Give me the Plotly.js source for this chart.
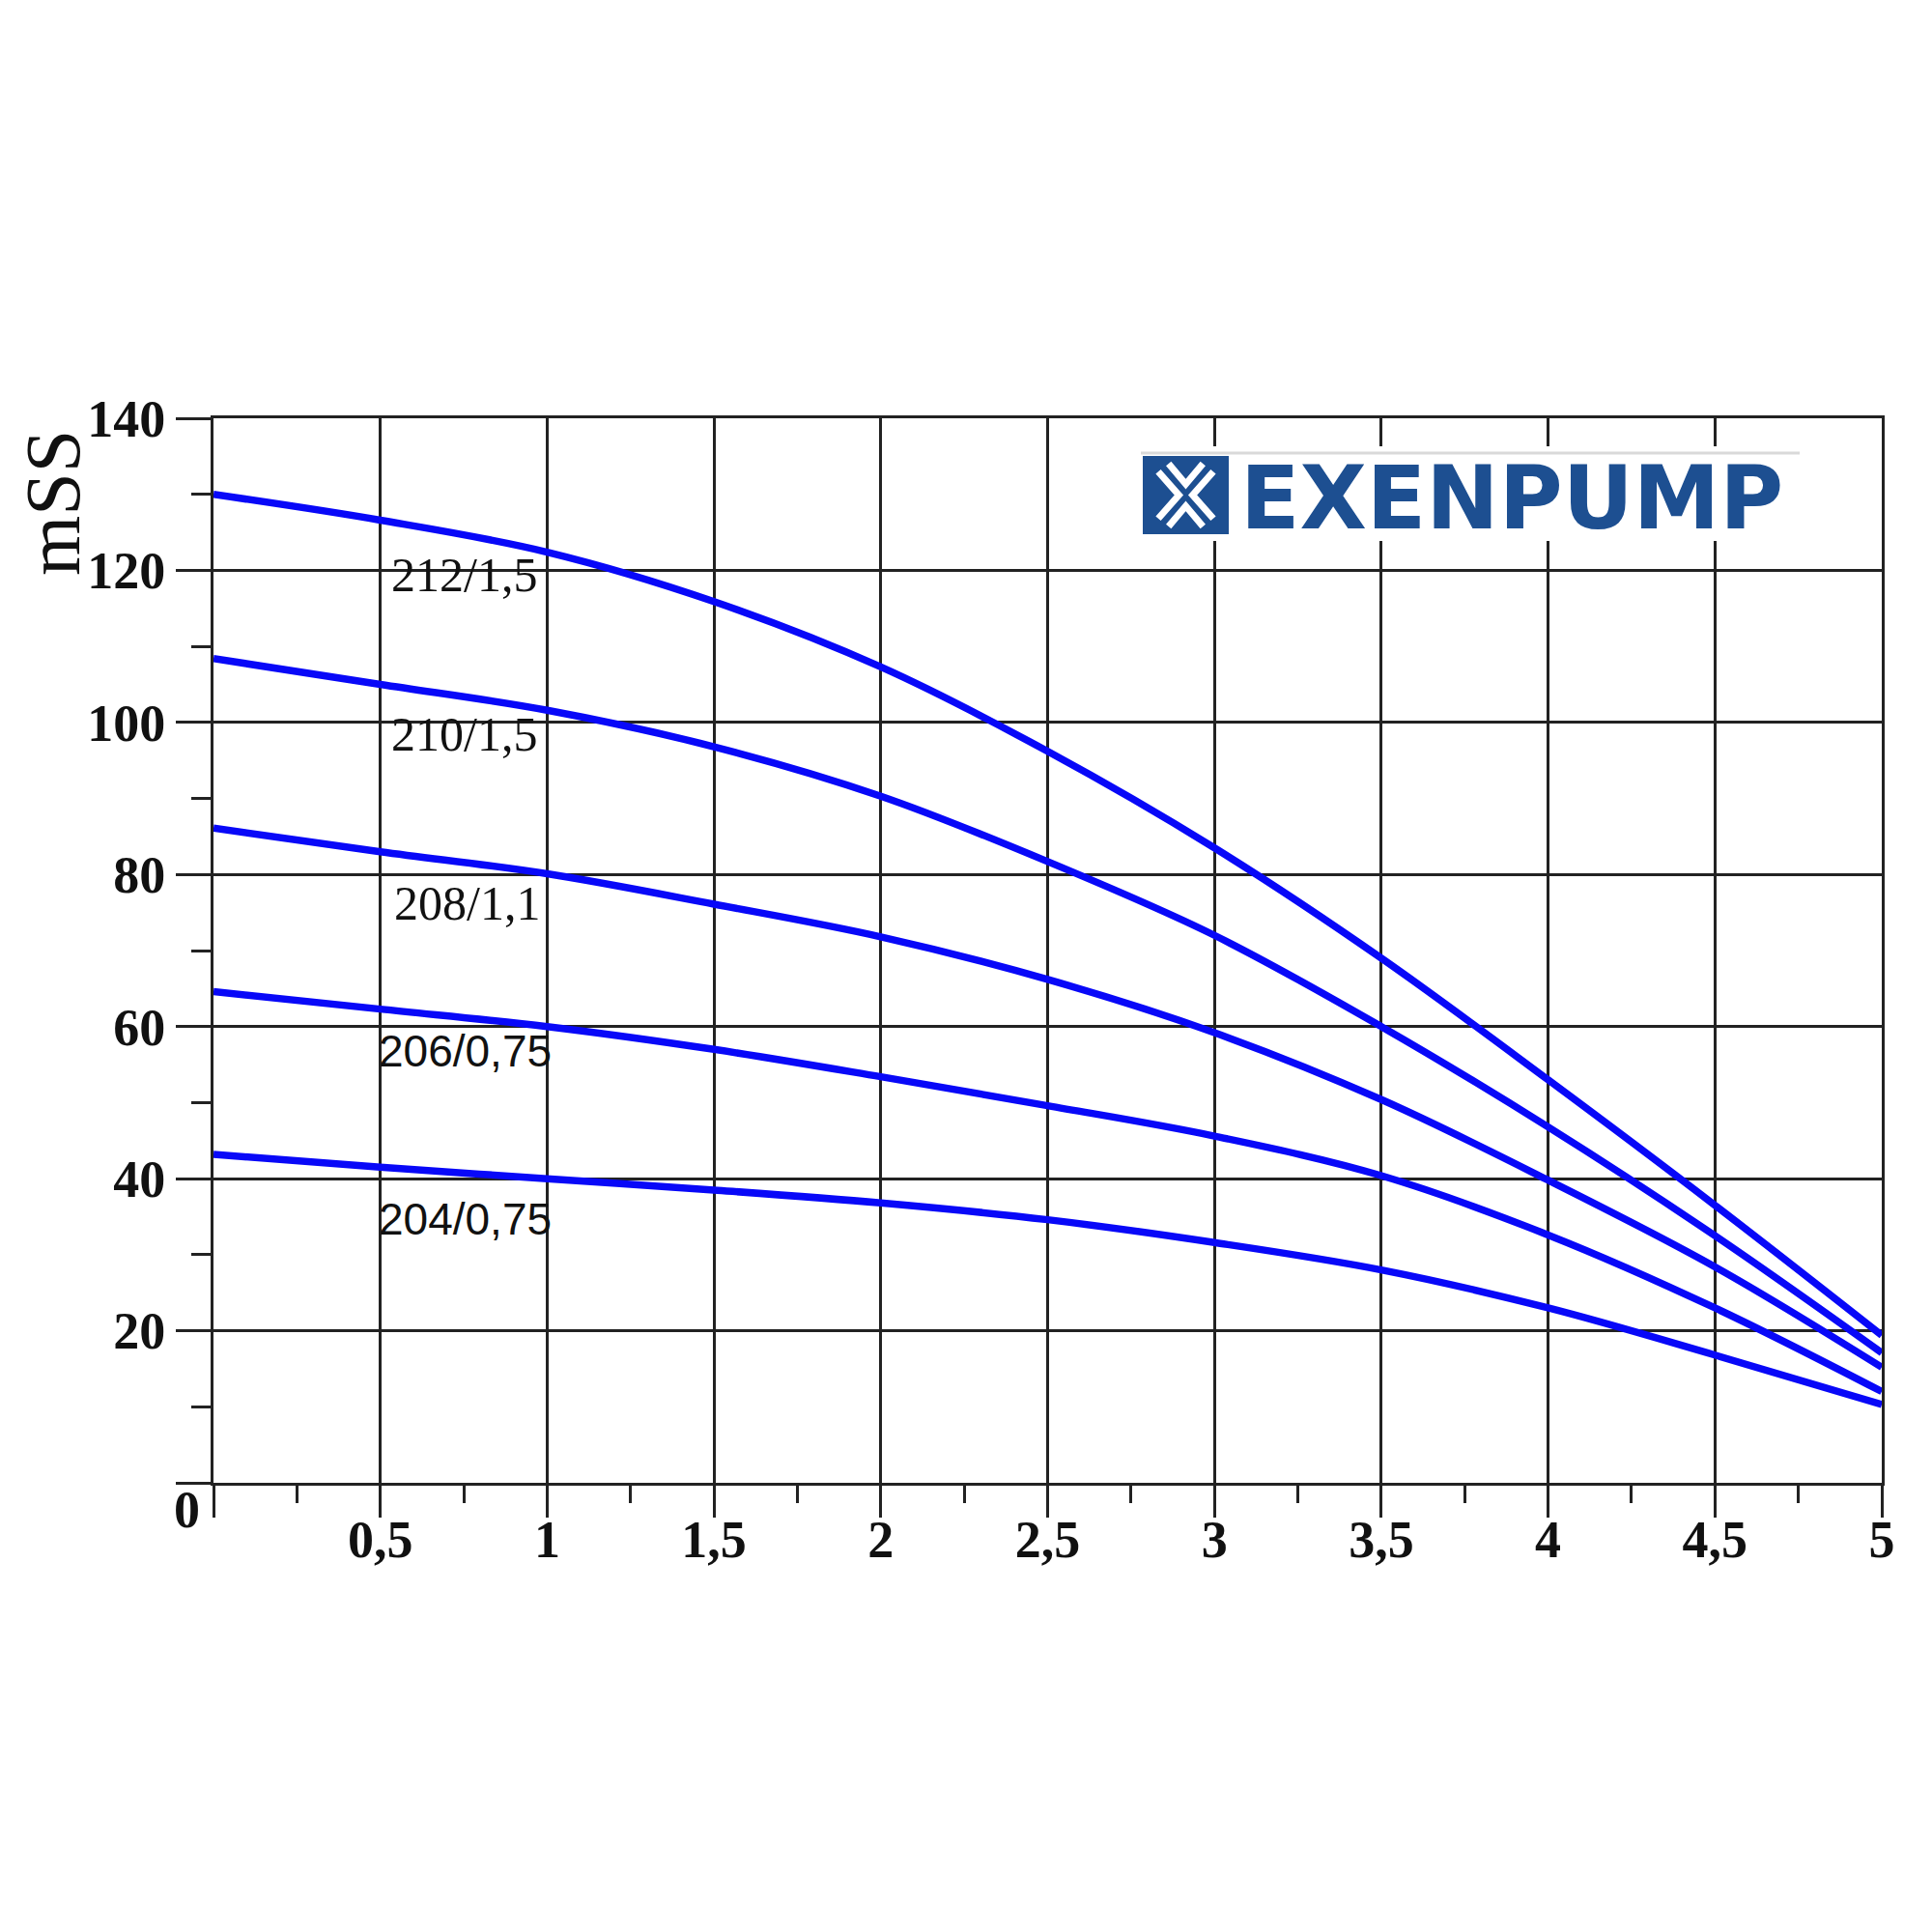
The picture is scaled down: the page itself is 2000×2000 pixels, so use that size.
<!DOCTYPE html>
<html>
<head>
<meta charset="utf-8">
<script src="https://cdn.plot.ly/plotly-3.0.1.min.js"></script>
<style>html,body{margin:0;padding:0;background:#fff}#chart{width:2000px;height:2000px}</style>
</head>
<body>
<div id="chart"></div>
<script>
// ---- data ----
const flow = [0, 0.5, 1, 1.5, 2, 2.5, 3, 3.5, 4, 4.5, 5];
const head212 = [130, 126.6, 122.4, 115.9, 107.3, 96.2, 83.5, 69.0, 53.0, 36.5, 19.4];
const head210 = [108.4, 105, 101.6, 96.8, 90.3, 81.7, 72, 60, 46.8, 32.5, 17.1];
const head208 = [86.1, 83, 80.1, 76.1, 71.8, 66.2, 59.2, 50.4, 39.8, 28.4, 15.2];
const head206 = [64.6, 62.3, 60, 57, 53.4, 49.6, 45.6, 40.4, 32.6, 23.0, 12.0];
const head204 = [43.2, 41.5, 40, 38.5, 36.8, 34.6, 31.6, 28, 23, 16.8, 10.3];
const seriesNames = ['212/1,5', '210/1,5', '208/1,1', '206/0,75', '204/0,75'];
const xTickVals = [0, 0.5, 1, 1.5, 2, 2.5, 3, 3.5, 4, 4.5, 5];
const xTickText = ['', '0,5', '1', '1,5', '2', '2,5', '3', '3,5', '4', '4,5', '5'];
const yTickVals = [0, 20, 40, 60, 80, 100, 120, 140];
const yTickText = ['', '20', '40', '60', '80', '100', '120', '140'];
const yTitle = 'mSS';
const brand = 'EXENPUMP';

// ---- layout helpers (pixel -> paper) ----
const L = 221, R = 1948, T = 433, B = 1535;
const px = v => (v - L) / (R - L);
const py = v => (B - v) / (B - T);

const seriesY = [head212, head210, head208, head206, head204];
const traces = seriesY.map((ys, i) => ({
  x: flow, y: ys, type: 'scatter', mode: 'lines', name: seriesNames[i],
  line: {color: '#0808f8', width: 7.5, shape: 'spline', smoothing: 1},
  hoverinfo: 'skip'
}));

const gridCol = '#222222';
const serifBold = {family: 'Liberation Serif, Times New Roman, serif', size: 54, color: '#111', weight: 'bold'};

// label positions (data coords)
const labelPos = [[0.528, 119.4], [0.528, 98.5], [0.535, 76.2], [0.49, 56.8], [0.49, 34.7]];
const labelFonts = [
  {family: 'Liberation Serif, serif', size: 50, color: '#111'},
  {family: 'Liberation Serif, serif', size: 50, color: '#111'},
  {family: 'Liberation Serif, serif', size: 50, color: '#111'},
  {family: 'Liberation Sans, Arial, sans-serif', size: 46, color: '#111'},
  {family: 'Liberation Sans, Arial, sans-serif', size: 46, color: '#111'}
];
const annotations = seriesNames.map((n, i) => ({
  x: labelPos[i][0], y: labelPos[i][1], xref: 'x', yref: 'y', text: n,
  showarrow: false, xanchor: 'left', yanchor: 'middle', font: labelFonts[i]
}));
annotations.push({
  x: px(55), y: py(521), xref: 'paper', yref: 'paper', text: yTitle, textangle: -90,
  showarrow: false, xanchor: 'center', yanchor: 'middle',
  font: {family: 'Liberation Serif, Times New Roman, serif', size: 80, color: '#111'}
});
annotations.push({
  x: px(193), y: py(1563), xref: 'paper', yref: 'paper', text: '0',
  showarrow: false, xanchor: 'center', yanchor: 'middle', font: serifBold
});
annotations.push({
  x: px(1282), y: py(515), xref: 'paper', yref: 'paper', text: brand,
  showarrow: false, xanchor: 'left', yanchor: 'middle',
  font: {family: 'DejaVu Sans, sans-serif', size: 90, color: '#1d4f91', weight: 'bold'}
});

// logo shapes
const ix0 = 1183, ix1 = 1272, iy0 = 472, iy1 = 553;
const ix = f => px(ix0 + f * (ix1 - ix0));
const iy = f => py(iy0 + f * (iy1 - iy0));
const poly = pts => 'M ' + pts.map(p => ix(p[0]) + ',' + iy(p[1])).join(' L ');
const whiteStroke = {color: '#ffffff', width: 7};
const shapes = [
  {type: 'rect', xref: 'paper', yref: 'paper', x0: px(1172), x1: px(1872), y0: py(462), y1: py(560),
   fillcolor: '#ffffff', line: {width: 0}, layer: 'above'},
  {type: 'line', xref: 'paper', yref: 'paper', x0: px(1181), x1: px(1863), y0: py(469), y1: py(469),
   line: {color: '#d9d9d9', width: 3}, layer: 'above'},
  {type: 'rect', xref: 'paper', yref: 'paper', x0: ix(0), x1: ix(1), y0: iy(0), y1: iy(1),
   fillcolor: '#1d4f91', line: {width: 0}, layer: 'above'},
  {type: 'path', xref: 'paper', yref: 'paper', path: poly([[0.18, 0.2], [0.42, 0.5], [0.18, 0.8]]), line: whiteStroke, layer: 'above'},
  {type: 'path', xref: 'paper', yref: 'paper', path: poly([[0.82, 0.2], [0.58, 0.5], [0.82, 0.8]]), line: whiteStroke, layer: 'above'},
  {type: 'path', xref: 'paper', yref: 'paper', path: poly([[0.3, 0.1], [0.5, 0.36], [0.7, 0.1]]), line: whiteStroke, layer: 'above'},
  {type: 'path', xref: 'paper', yref: 'paper', path: poly([[0.3, 0.9], [0.5, 0.64], [0.7, 0.9]]), line: whiteStroke, layer: 'above'}
];

const layout = {
  width: 2000, height: 2000,
  margin: {l: L, r: 2000 - R, t: T, b: 2000 - B, pad: 0},
  paper_bgcolor: '#ffffff', plot_bgcolor: '#ffffff',
  showlegend: false,
  xaxis: {
    range: [0, 5], tickvals: xTickVals, ticktext: xTickText,
    showgrid: true, gridcolor: gridCol, gridwidth: 3, zeroline: false,
    showline: true, linecolor: gridCol, linewidth: 3, mirror: true,
    ticks: 'outside', ticklen: 33, tickwidth: 3, tickcolor: gridCol,
    minor: {dtick: 0.25, tick0: 0, ticks: 'outside', ticklen: 18, tickwidth: 3, tickcolor: gridCol, showgrid: false},
    tickfont: serifBold, ticklabelstandoff: -24, fixedrange: true
  },
  yaxis: {
    range: [0, 140], tickvals: yTickVals, ticktext: yTickText,
    showgrid: true, gridcolor: gridCol, gridwidth: 3, zeroline: false,
    showline: true, linecolor: gridCol, linewidth: 3, mirror: true,
    ticks: 'outside', ticklen: 36, tickwidth: 3, tickcolor: gridCol,
    minor: {dtick: 10, tick0: 0, ticks: 'outside', ticklen: 20, tickwidth: 3, tickcolor: gridCol, showgrid: false},
    tickfont: serifBold, fixedrange: true
  },
  annotations: annotations,
  shapes: shapes
};

Plotly.newPlot('chart', traces, layout, {displayModeBar: false, staticPlot: true});
</script>
</body>
</html>
